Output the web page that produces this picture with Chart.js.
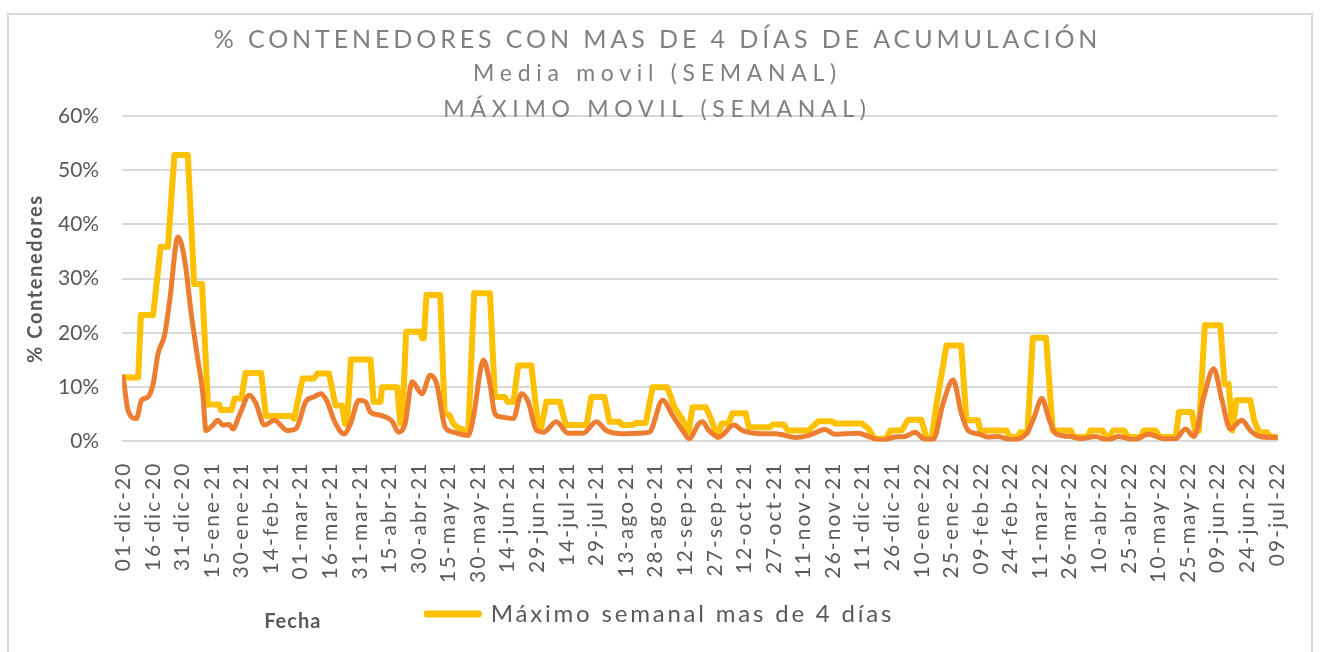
<!DOCTYPE html>
<html lang="es">
<head>
<meta charset="utf-8">
<title>% Contenedores con mas de 4 días de acumulación</title>
<script src="https://cdn.jsdelivr.net/npm/chart.js@4.4.1/dist/chart.umd.min.js"></script>
<style>
  html, body { margin: 0; padding: 0; background: #ffffff; }
  .marco {
    position: absolute; left: 7px; top: 13px;
    width: 1302px; height: 660px;
    border: 2px solid #d9d9d9;
  }
  .lienzo { position: absolute; left: 0; top: 0; width: 1322px; height: 652px; }
</style>
</head>
<body>
<div class="marco"></div>
<div class="lienzo"><canvas id="grafico"></canvas></div>
<script>
// ------------------------------
// Datos (día desde 01-dic-20, % de contenedores)
// ------------------------------

const fechas = [
  "01-dic-20", "16-dic-20", "31-dic-20", "15-ene-21", "30-ene-21", "14-feb-21",
  "01-mar-21", "16-mar-21", "31-mar-21", "15-abr-21", "30-abr-21", "15-may-21",
  "30-may-21", "14-jun-21", "29-jun-21", "14-jul-21", "29-jul-21", "13-ago-21",
  "28-ago-21", "12-sep-21", "27-sep-21", "12-oct-21", "27-oct-21", "11-nov-21",
  "26-nov-21", "11-dic-21", "26-dic-21", "10-ene-22", "25-ene-22", "09-feb-22",
  "24-feb-22", "11-mar-22", "26-mar-22", "10-abr-22", "25-abr-22", "10-may-22",
  "25-may-22", "09-jun-22", "24-jun-22", "09-jul-22"
];

const ticksPorcentaje = [0, 10, 20, 30, 40, 50, 60];

// máximo semanal mas de 4 días
const maximoSemanal = [
  [0, 11.8], [7.6, 11.8], [9, 23.3], [15.2, 23.3], [19, 35.9], [22.7, 35.9],
  [26, 52.8], [32.8, 52.8], [36, 29], [40, 29], [43, 6.8], [48.8, 6.8],
  [49.5, 5.8], [55, 5.8], [56.5, 7.9], [60, 7.9], [62, 12.6], [70, 12.6],
  [72.4, 4.7], [85, 4.7], [86.7, 4.2], [91, 11.6], [96.8, 11.6], [98.5, 12.5],
  [104.4, 12.5], [107.7, 6.6], [111, 6.6], [112.5, 3.2], [113.5, 3.2], [115.5, 15.1],
  [125.4, 15.1], [127, 7.3], [130.5, 7.3], [131.3, 10], [139, 10], [140.5, 3.3],
  [141.5, 3.3], [143.5, 20.2], [150.7, 20.2], [151.7, 19], [152.5, 19], [153.8, 27],
  [160.8, 27], [163, 5.2], [165.5, 4.8], [167.5, 3.2], [170, 2.5], [175, 1.8],
  [178, 27.3], [186, 27.3], [188.5, 8.2], [193.6, 8.2], [195, 7.3], [198, 7.3],
  [200.3, 14], [207, 14], [210.5, 2.6], [212, 2.6], [214.6, 7.3], [221.4, 7.3],
  [224.5, 3], [235, 3], [237.4, 8.2], [244, 8.2], [246.6, 3.6], [251.7, 3.6],
  [253, 3], [258.4, 3], [260, 3.4], [265, 3.4], [268.5, 10], [276, 10],
  [279.5, 6.3], [283.7, 4], [286.7, 1.7], [288.7, 6.3], [295.5, 6.3], [298, 4.2],
  [301.4, 0.8], [303.5, 3.3], [307, 3.3], [309, 5.2], [315.7, 5.2], [317.3, 2.6],
  [328, 2.6], [329.5, 3.1], [335, 3.1], [337, 2], [347.5, 2], [352.5, 3.7],
  [359.4, 3.7], [361, 3.3], [374.6, 3.3], [378, 2.3], [381, 0.5], [387, 0.5],
  [389, 2], [394.8, 2], [398, 4], [404.8, 4], [407.5, 0.5], [410, 0.5],
  [412.5, 7], [417.5, 17.7], [425, 17.7], [427.6, 3.9], [433.5, 3.9], [435, 1.4],
  [437, 2], [448, 2], [449.5, 0.8], [453.5, 0.8], [455, 1.7], [458.6, 1.7],
  [461.3, 19.1], [468, 19.1], [471.4, 2], [480.6, 2], [482, 0.8], [489, 0.8],
  [490.5, 2], [496.6, 2], [498.5, 0.8], [500, 0.8], [502, 2], [507.6, 2],
  [509.5, 0.8], [516, 0.8], [517.5, 2], [523.6, 2], [525.5, 0.8], [533.7, 0.8],
  [535.4, 5.4], [542, 5.4], [543.5, 2], [545.5, 2], [548.5, 21.4], [556.4, 21.4],
  [558.5, 10.6], [560.6, 10.6], [562.5, 2], [564.5, 7.6], [571.6, 7.6], [573.5, 3.9],
  [576, 1.7], [580, 1.7], [582, 0.8], [585, 0.8]
];

// media movil semanal
const mediaMovil = [
  [0, 11.9], [2.5, 5.7], [6.7, 4.2], [9.3, 7.6], [12.6, 8.2], [15.2, 10.6],
  [17.7, 16.2], [21, 19.6], [23.6, 26], [27.8, 37.7], [31.2, 33.4], [34.5, 23.6],
  [37.9, 15], [40.4, 8.8], [42, 2], [45.5, 3], [48, 3.9], [50.5, 3],
  [53.9, 3.1], [55.6, 2.3], [58.9, 4.8], [64, 8.5], [67.3, 7], [71.6, 3],
  [76.6, 3.9], [83.3, 2], [87.5, 2.3], [92.6, 7.3], [96.8, 8.2], [100.2, 8.8],
  [103.5, 7.3], [106.9, 3.9], [112, 1.4], [115.3, 3.3], [119.5, 7.6], [122.9, 7.3],
  [125.4, 5.4], [129.6, 4.9], [133, 4.5], [136.4, 3.7], [139.7, 1.7], [143, 3.3],
  [146.5, 11], [151.5, 8.8], [155.7, 12.2], [159, 10.6], [163.3, 2.6], [167.5, 1.7],
  [175, 1.1], [177.6, 4.5], [182.7, 15], [186, 10.6], [188.5, 5.1], [191.9, 4.5],
  [197.8, 4.2], [202, 8.8], [205.4, 7.3], [209.6, 2], [213, 1.7], [219.7, 3.6],
  [225.6, 1.5], [233.2, 1.5], [240, 3.6], [245, 2], [253.4, 1.4], [261.8, 1.5],
  [266.8, 1.7], [273.6, 7.6], [278.6, 4.8], [283.7, 2], [287, 0.5], [292, 3.3],
  [293.8, 3.6], [297, 2], [302, 0.8], [309.8, 3], [314, 2], [324, 1.4],
  [330.8, 1.4], [341, 0.7], [347.6, 1.1], [356, 2.2], [361, 1.3], [366, 1.4],
  [372.9, 1.5], [378, 0.9], [384.7, 0.2], [391.4, 0.8], [396.5, 0.9], [401.5, 1.7],
  [406.6, 0.4], [410.8, 0.4], [415.8, 7], [420.9, 11.3], [425.1, 5.1], [428.5, 2],
  [433.5, 1.4], [438.5, 0.8], [443.6, 0.9], [450, 0.3], [458, 1.4], [462, 4.5],
  [465.8, 7.9], [469.7, 3.9], [473, 1.4], [480.6, 0.9], [485.7, 0.5], [493, 0.9],
  [499, 0.3], [505, 0.9], [512.6, 0.3], [520, 1.3], [527.8, 0.5], [533.7, 0.5],
  [538.7, 2.3], [543, 0.9], [548, 8.2], [553, 13.4], [557.2, 7.6], [561.4, 2.3],
  [567.3, 3.9], [571.6, 2], [576.6, 0.9], [585, 0.7]
];

// ------------------------------
// Estilo
// ------------------------------

const GRIS_TEXTO = "#595959";
const GRIS_TITULO = "#808080";

Chart.defaults.font.family = "Lato, 'Open Sans', sans-serif";
Chart.defaults.color = GRIS_TEXTO;

const aPuntos = (lista) => lista.map(p => ({ x: p[0], y: p[1] }));

// ------------------------------
// Gráfico
// ------------------------------

const grafico = new Chart(document.getElementById("grafico"), {
  type: "line",
  data: {
    datasets: [
      {
        label: "Máximo semanal mas de 4 días",
        data: aPuntos(maximoSemanal),
        borderColor: "#FFC000",
        backgroundColor: "#FFC000",
        borderWidth: 6,
        borderJoinStyle: "round",
        borderCapStyle: "round",
        pointRadius: 0,
        tension: 0,
        order: 2
      },
      {
        label: "Media movil semanal mas de 4 días",
        data: aPuntos(mediaMovil),
        borderColor: "#ED7D31",
        backgroundColor: "#ED7D31",
        borderWidth: 5,
        borderJoinStyle: "round",
        borderCapStyle: "round",
        pointRadius: 0,
        cubicInterpolationMode: "monotone",
        order: 1
      }
    ]
  },
  options: {
    responsive: true,
    maintainAspectRatio: false,
    animation: false,
    layout: { padding: { top: 13, left: 14, right: 39, bottom: 16 } },
    plugins: {
      title: {
        display: true,
        text: "% CONTENEDORES CON MAS DE 4 DÍAS DE ACUMULACIÓN",
        color: GRIS_TITULO,
        font: { size: 25, weight: "normal" },
        padding: { top: 12, bottom: 0 }
      },
      subtitle: {
        display: true,
        text: ["Media movil (SEMANAL)", "MÁXIMO MOVIL (SEMANAL)"],
        color: GRIS_TITULO,
        font: { size: 23, lineHeight: 1.565 },
        padding: { top: 1, bottom: -12 }
      },
      legend: {
        position: "bottom",
        labels: {
          color: GRIS_TEXTO,
          font: { size: 24 },
          boxWidth: 52,
          boxHeight: 1,
          padding: 10,
          filter: (item) => item.datasetIndex === 0
        }
      },
      tooltip: { enabled: false }
    },
    scales: {
      x: {
        type: "linear",
        min: -0.5,
        max: 585.5,
        afterBuildTicks: (escala) => {
          escala.ticks = fechas.map((f, i) => ({ value: i * 15 }));
        },
        ticks: {
          autoSkip: false,
          maxRotation: 90,
          minRotation: 90,
          padding: 20,
          color: GRIS_TEXTO,
          font: { size: 21 },
          callback: (v, i) => fechas[i]
        },
        grid: { display: false, drawTicks: false },
        border: { display: false },
        title: {
          display: true,
          text: "Fecha",
          align: "start",
          color: GRIS_TEXTO,
          font: { size: 20, weight: "bold" },
          padding: { top: 26, bottom: -42 }
        }
      },
      y: {
        min: 0,
        max: 60,
        afterBuildTicks: (escala) => {
          escala.ticks = ticksPorcentaje.map(v => ({ value: v }));
        },
        ticks: {
          padding: 23,
          color: GRIS_TEXTO,
          font: { size: 21 },
          callback: (v) => v + "%"
        },
        grid: { color: "#d9d9d9", lineWidth: 2, drawTicks: false },
        border: { display: false },
        title: {
          display: true,
          text: "% Contenedores",
          color: GRIS_TEXTO,
          font: { size: 20, weight: "bold" },
          padding: { top: 10, bottom: -13 }
        }
      }
    }
  }
});

// ------------------------------
// Espaciado de letras y posición de textos
// ------------------------------

function envolver(obj, metodo, antes) {
  if (!obj || !obj[metodo]) return;
  const original = obj[metodo];
  obj[metodo] = function (...args) {
    this.ctx.save();
    antes(this.ctx);
    const r = original.apply(this, args);
    this.ctx.restore();
    return r;
  };
}

const espacio = (px, dx = 0) => (ctx) => {
  ctx.letterSpacing = px + "px";
  if (dx) ctx.translate(dx, 0);
};

// cajas de título y subtítulo
grafico.boxes
  .filter(b => b.options && b.options.text !== undefined && !b.options.labels && !b.options.ticks)
  .forEach(b => envolver(b, "draw", espacio(Array.isArray(b.options.text) ? 5.7 : 3.9, 9)));

envolver(grafico.legend, "fit", espacio(2.8));
envolver(grafico.legend, "draw", espacio(2.8, 12));
envolver(grafico.scales.x, "drawLabels", espacio(2.1));
envolver(grafico.scales.x, "drawTitle", espacio(1, 142));
envolver(grafico.scales.y, "drawTitle", espacio(1.6));

grafico.update();
</script>
</body>
</html>
